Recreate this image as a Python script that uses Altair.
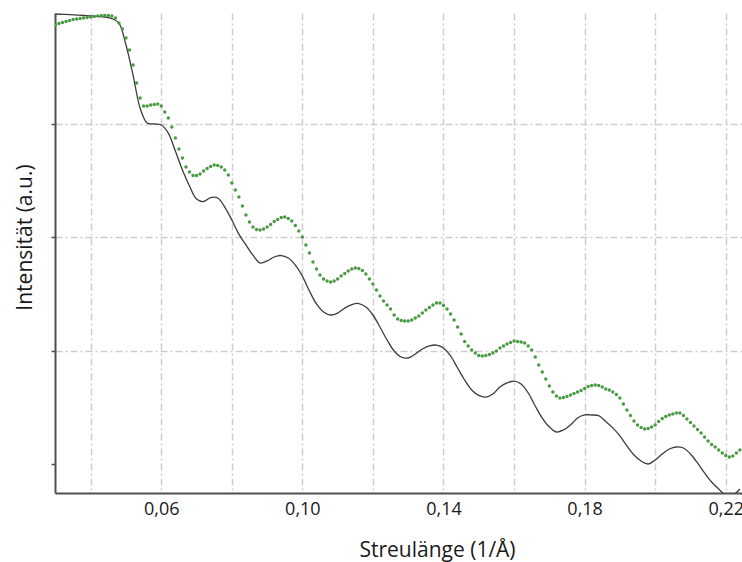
import altair as alt
import pandas as pd

# Measured scattering curve (green dots): q in 1/Å, log10 intensity (a.u.)
q_meas = [
    0.030, 0.031, 0.032, 0.033, 0.034, 0.035, 0.036, 0.037, 0.038, 0.039,
    0.040, 0.041, 0.042, 0.043, 0.044, 0.045, 0.046, 0.047, 0.048, 0.049,
    0.050, 0.051, 0.052, 0.053, 0.054, 0.055, 0.056, 0.057, 0.058, 0.059,
    0.060, 0.061, 0.062, 0.063, 0.064, 0.065, 0.066, 0.067, 0.068, 0.069,
    0.070, 0.071, 0.072, 0.073, 0.074, 0.075, 0.076, 0.077, 0.078, 0.079,
    0.080, 0.081, 0.082, 0.083, 0.084, 0.085, 0.086, 0.087, 0.088, 0.089,
    0.090, 0.091, 0.092, 0.093, 0.094, 0.095, 0.096, 0.097, 0.098, 0.099,
    0.100, 0.101, 0.102, 0.103, 0.104, 0.105, 0.106, 0.107, 0.108, 0.109,
    0.110, 0.111, 0.112, 0.113, 0.114, 0.115, 0.116, 0.117, 0.118, 0.119,
    0.120, 0.121, 0.122, 0.123, 0.124, 0.125, 0.126, 0.127, 0.128, 0.129,
    0.130, 0.131, 0.132, 0.133, 0.134, 0.135, 0.136, 0.137, 0.138, 0.139,
    0.140, 0.141, 0.142, 0.143, 0.144, 0.145, 0.146, 0.147, 0.148, 0.149,
    0.150, 0.151, 0.152, 0.153, 0.154, 0.155, 0.156, 0.157, 0.158, 0.159,
    0.160, 0.161, 0.162, 0.163, 0.164, 0.165, 0.166, 0.167, 0.168, 0.169,
    0.170, 0.171, 0.172, 0.173, 0.174, 0.175, 0.176, 0.177, 0.178, 0.179,
    0.180, 0.181, 0.182, 0.183, 0.184, 0.185, 0.186, 0.187, 0.188, 0.189,
    0.190, 0.191, 0.192, 0.193, 0.194, 0.195, 0.196, 0.197, 0.198, 0.199,
    0.200, 0.201, 0.202, 0.203, 0.204, 0.205, 0.206, 0.207, 0.208, 0.209,
    0.210, 0.211, 0.212, 0.213, 0.214, 0.215, 0.216, 0.217, 0.218, 0.219,
    0.220, 0.221, 0.222, 0.223, 0.224,
]
log_i_meas = [
    3.868, 3.881, 3.890, 3.899, 3.907, 3.916, 3.921, 3.925, 3.930, 3.934,
    3.938, 3.943, 3.947, 3.952, 3.952, 3.952, 3.947, 3.930, 3.885, 3.833,
    3.753, 3.648, 3.515, 3.357, 3.225, 3.154, 3.154, 3.163, 3.167, 3.172,
    3.154, 3.101, 3.048, 2.969, 2.872, 2.775, 2.696, 2.617, 2.573, 2.542,
    2.542, 2.555, 2.581, 2.604, 2.621, 2.634, 2.630, 2.617, 2.590, 2.546,
    2.476, 2.414, 2.352, 2.273, 2.194, 2.132, 2.088, 2.066, 2.062, 2.070,
    2.088, 2.110, 2.137, 2.154, 2.172, 2.176, 2.163, 2.141, 2.101, 2.053,
    2.000, 1.930, 1.859, 1.780, 1.718, 1.665, 1.630, 1.612, 1.604, 1.612,
    1.630, 1.656, 1.678, 1.700, 1.718, 1.727, 1.722, 1.705, 1.674, 1.630,
    1.586, 1.533, 1.480, 1.436, 1.401, 1.366, 1.313, 1.278, 1.264, 1.260,
    1.260, 1.269, 1.286, 1.304, 1.330, 1.357, 1.379, 1.401, 1.419, 1.419,
    1.396, 1.366, 1.322, 1.269, 1.207, 1.145, 1.079, 1.040, 1.004, 0.978,
    0.956, 0.952, 0.956, 0.965, 0.978, 0.996, 1.022, 1.040, 1.057, 1.070,
    1.084, 1.079, 1.075, 1.066, 1.040, 1.004, 0.943, 0.872, 0.811, 0.749,
    0.687, 0.634, 0.599, 0.581, 0.586, 0.595, 0.608, 0.621, 0.634, 0.648,
    0.665, 0.683, 0.692, 0.696, 0.692, 0.678, 0.661, 0.652, 0.634, 0.612,
    0.581, 0.529, 0.476, 0.427, 0.379, 0.344, 0.322, 0.308, 0.313, 0.326,
    0.344, 0.374, 0.401, 0.419, 0.432, 0.441, 0.449, 0.449, 0.427, 0.396,
    0.366, 0.335, 0.304, 0.273, 0.238, 0.203, 0.172, 0.150, 0.123, 0.097,
    0.075, 0.062, 0.070, 0.097, 0.123,
]

# Model curve (dark line): q in 1/Å, log10 intensity (a.u.)
q_model = [
    0.030, 0.032, 0.034, 0.036, 0.038, 0.040, 0.042, 0.044, 0.046, 0.048,
    0.050, 0.052, 0.054, 0.056, 0.058, 0.060, 0.062, 0.064, 0.066, 0.068,
    0.070, 0.072, 0.074, 0.076, 0.078, 0.080, 0.082, 0.084, 0.086, 0.088,
    0.090, 0.092, 0.094, 0.096, 0.098, 0.100, 0.102, 0.104, 0.106, 0.108,
    0.110, 0.112, 0.114, 0.116, 0.118, 0.120, 0.122, 0.124, 0.126, 0.128,
    0.130, 0.132, 0.134, 0.136, 0.138, 0.140, 0.142, 0.144, 0.146, 0.148,
    0.150, 0.152, 0.154, 0.156, 0.158, 0.160, 0.162, 0.164, 0.166, 0.168,
    0.170, 0.172, 0.174, 0.176, 0.178, 0.180, 0.182, 0.184, 0.186, 0.188,
    0.190, 0.192, 0.194, 0.196, 0.198, 0.200, 0.202, 0.204, 0.206, 0.208,
    0.210, 0.212, 0.214, 0.216, 0.218, 0.220, 0.222, 0.224,
]
log_i_model = [
    3.965, 3.962, 3.960, 3.956, 3.952, 3.949, 3.944, 3.938, 3.925, 3.885,
    3.692, 3.427, 3.137, 3.004, 2.996, 2.987, 2.916, 2.758, 2.590, 2.449,
    2.335, 2.313, 2.348, 2.344, 2.264, 2.150, 2.026, 1.930, 1.840, 1.771,
    1.789, 1.824, 1.837, 1.815, 1.753, 1.656, 1.524, 1.410, 1.339, 1.313,
    1.330, 1.374, 1.405, 1.414, 1.383, 1.313, 1.207, 1.093, 0.996, 0.943,
    0.934, 0.969, 1.013, 1.040, 1.048, 1.022, 0.952, 0.846, 0.740, 0.652,
    0.604, 0.590, 0.617, 0.678, 0.714, 0.731, 0.705, 0.626, 0.511, 0.405,
    0.326, 0.282, 0.300, 0.344, 0.405, 0.432, 0.432, 0.426, 0.374, 0.318,
    0.247, 0.159, 0.079, 0.026, 0.000, 0.035, 0.088, 0.132, 0.150, 0.141,
    0.088, 0.009, -0.079, -0.159, -0.220, -0.273, -0.273, -0.220,
]

# Axis ticks / grid positions
x_grid = [0.04, 0.06, 0.08, 0.10, 0.12, 0.14, 0.16, 0.18, 0.20, 0.22]
x_labeled = [0.06, 0.10, 0.14, 0.18, 0.22]
y_grid = [0, 1, 2, 3]
x_domain = [0.02988, 0.22461]
y_domain = [-0.2555, 3.974]

meas = pd.DataFrame({"q": q_meas, "logI": log_i_meas})
model = pd.DataFrame({"q": q_model, "logI": log_i_model})

hundredths = ",".join(str(int(round(v * 100))) for v in x_labeled)
label_expr = (
    f"indexof([{hundredths}], round(datum.value * 100)) >= 0 ? "
    "replace(format(datum.value, '.2f'), '.', ',') : ''"
)

FONT = "Open Sans"
GRID = "#cdcdcd"
AXIS = "#505050"

x_enc = alt.X(
    "q:Q",
    scale=alt.Scale(domain=x_domain, nice=False, zero=False),
    axis=alt.Axis(
        title="Streulänge (1/Å)",
        values=x_grid,
        labelExpr=label_expr,
        labelOverlap=False,
        labelFlush=False,
        ticks=False,
        tickSize=0,
        labelPadding=7,
        labelFont=FONT,
        labelFontSize=18,
        labelColor="#1a1a1a",
        titleFont=FONT,
        titleFontSize=21,
        titleFontWeight="normal",
        titleColor="#1a1a1a",
        titleX=382,
        titleY=63,
        titleAlign="center",
        titleBaseline="alphabetic",
        domainColor=AXIS,
        domainWidth=2,
        grid=True,
        gridColor=GRID,
        gridWidth=1.5,
        gridDash=[7, 3, 2, 3],
    ),
)

y_enc = alt.Y(
    "logI:Q",
    scale=alt.Scale(domain=y_domain, nice=False, zero=False),
    axis=alt.Axis(
        title="Intensität (a.u.)",
        values=y_grid,
        labels=False,
        ticks=True,
        tickSize=4,
        tickColor=AXIS,
        tickWidth=1.5,
        titleFont=FONT,
        titleFontSize=21,
        titleFontWeight="normal",
        titleColor="#1a1a1a",
        titleAngle=-90,
        titleX=-30,
        titleY=224,
        titleAlign="center",
        titleBaseline="middle",
        domainColor=AXIS,
        domainWidth=2,
        grid=True,
        gridColor=GRID,
        gridWidth=1.5,
        gridDash=[7, 3, 2, 3],
        gridOpacity={"condition": {"test": "datum.value === 0", "value": 0}, "value": 1},
    ),
)

line = alt.Chart(model).mark_line(
    color="#3c3c3c", strokeWidth=1.3, interpolate="catmull-rom", clip=True
).encode(x=x_enc, y=y_enc)

dots = alt.Chart(meas).mark_circle(
    color="#4a9a44", size=12, opacity=1, clip=True
).encode(x="q:Q", y="logI:Q")

chart = (
    alt.layer(line, dots)
    .properties(
        width=687,
        height=480,
        autosize=alt.AutoSizeParams(type="none"),
        padding={"left": 55, "top": 13, "right": 0, "bottom": 69},
        background="white",
    )
    .configure_view(stroke=None)
)

chart.save("out.html", embed_options={"renderer": "svg", "actions": False})
